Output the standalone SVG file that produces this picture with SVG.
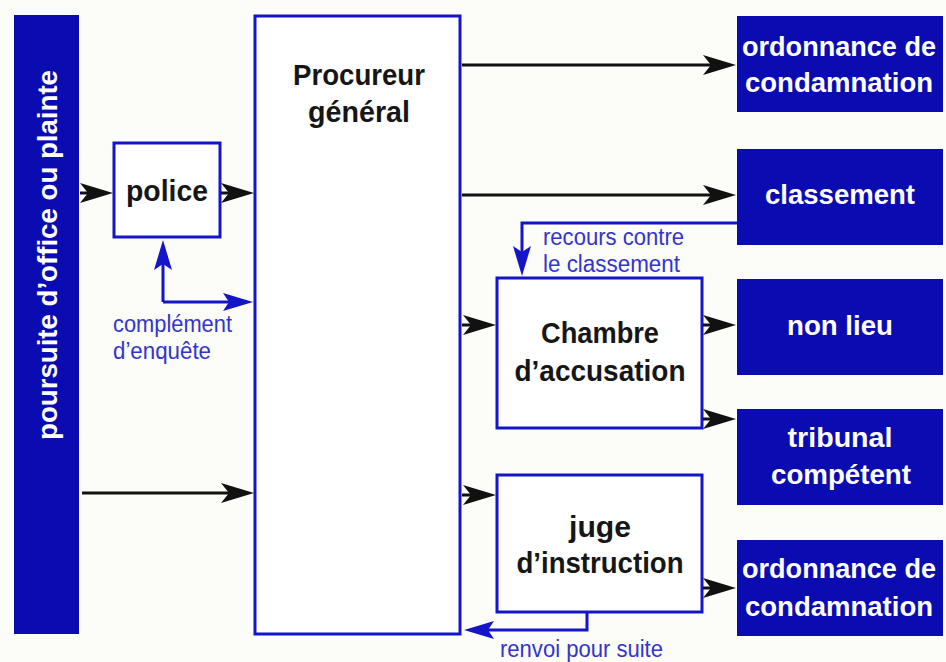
<svg xmlns="http://www.w3.org/2000/svg" width="946" height="662" viewBox="0 0 946 662">
<style>
.bg{fill:#fcfcf8}
.dark{fill:#0b0bb2}
.box{fill:#ffffff;stroke:#1515c8;stroke-width:3}
.bt{font-family:"Liberation Sans",Arial,sans-serif;font-weight:bold;font-size:29px;fill:#161616;text-anchor:middle}
.wt{font-family:"Liberation Sans",Arial,sans-serif;font-weight:bold;font-size:28px;fill:#ffffff;text-anchor:middle}
.lb{font-family:"Liberation Sans",Arial,sans-serif;font-size:23px;fill:#3434cc}
.ka{stroke:#111111;stroke-width:3;fill:none}
.ba{stroke:#1515c8;stroke-width:3;fill:none}
</style>
<defs>
<marker id="ak" viewBox="0 -10 34 20" markerWidth="34" markerHeight="20" markerUnits="userSpaceOnUse" refX="26" refY="0" orient="auto">
<path d="M0,-10 L33,0 L0,10 L8,0 Z" fill="#111111"/>
</marker>
<marker id="ab" viewBox="0 -10 32 20" markerWidth="32" markerHeight="20" markerUnits="userSpaceOnUse" refX="24" refY="0" orient="auto">
<path d="M0,-9 L30,0 L0,9 L6,0 Z" fill="#1515c8"/>
</marker>
</defs>
<rect class="bg" x="0" y="0" width="946" height="662"/>

<g id="poursuite">
<rect class="dark" x="14" y="15" width="65" height="619"/>
<text class="wt" transform="translate(57,255) rotate(-90)" textLength="370" lengthAdjust="spacingAndGlyphs">poursuite d’office ou plainte</text>
</g>

<g id="police">
<rect class="box" x="114" y="143" width="106" height="94"/>
<text class="bt" x="167" y="201" textLength="82" lengthAdjust="spacingAndGlyphs">police</text>
</g>

<g id="procureur">
<rect class="box" x="255" y="16" width="205" height="618"/>
<text class="bt" x="359" y="85" textLength="132" lengthAdjust="spacingAndGlyphs">Procureur</text>
<text class="bt" x="359" y="122" textLength="102" lengthAdjust="spacingAndGlyphs">général</text>
</g>

<g id="chambre">
<rect class="box" x="497" y="278" width="205" height="150"/>
<text class="bt" x="600" y="343" textLength="118" lengthAdjust="spacingAndGlyphs">Chambre</text>
<text class="bt" x="600" y="381" textLength="171" lengthAdjust="spacingAndGlyphs">d’accusation</text>
</g>

<g id="juge">
<rect class="box" x="497" y="475" width="205" height="137"/>
<text class="bt" x="600" y="537" textLength="62" lengthAdjust="spacingAndGlyphs">juge</text>
<text class="bt" x="600" y="573" textLength="167" lengthAdjust="spacingAndGlyphs">d’instruction</text>
</g>

<g id="ordonnance1">
<rect class="dark" x="737" y="16" width="206" height="96"/>
<text class="wt" x="839" y="56" textLength="194" lengthAdjust="spacingAndGlyphs">ordonnance de</text>
<text class="wt" x="839" y="92" textLength="188" lengthAdjust="spacingAndGlyphs">condamnation</text>
</g>

<g id="classement">
<rect class="dark" x="737" y="149" width="206" height="96"/>
<text class="wt" x="840" y="204" textLength="150" lengthAdjust="spacingAndGlyphs">classement</text>
</g>

<g id="nonlieu">
<rect class="dark" x="737" y="279" width="206" height="96"/>
<text class="wt" x="840" y="335" textLength="106" lengthAdjust="spacingAndGlyphs">non lieu</text>
</g>

<g id="tribunal">
<rect class="dark" x="737" y="409" width="206" height="96"/>
<text class="wt" x="840" y="447" textLength="105" lengthAdjust="spacingAndGlyphs">tribunal</text>
<text class="wt" x="841" y="484" textLength="140" lengthAdjust="spacingAndGlyphs">compétent</text>
</g>

<g id="ordonnance2">
<rect class="dark" x="737" y="540" width="206" height="96"/>
<text class="wt" x="839" y="578" textLength="194" lengthAdjust="spacingAndGlyphs">ordonnance de</text>
<text class="wt" x="839" y="616" textLength="188" lengthAdjust="spacingAndGlyphs">condamnation</text>
</g>

<g id="connectors">
<line class="ka" x1="80" y1="193" x2="106" y2="193" marker-end="url(#ak)"/>
<line class="ka" x1="221" y1="193" x2="247" y2="193" marker-end="url(#ak)"/>
<line class="ka" x1="82" y1="493" x2="247" y2="493" marker-end="url(#ak)"/>
<line class="ka" x1="462" y1="65" x2="729" y2="65" marker-end="url(#ak)"/>
<line class="ka" x1="462" y1="195" x2="729" y2="195" marker-end="url(#ak)"/>
<line class="ka" x1="462" y1="325" x2="489" y2="325" marker-end="url(#ak)"/>
<line class="ka" x1="462" y1="495" x2="489" y2="495" marker-end="url(#ak)"/>
<line class="ka" x1="703" y1="325" x2="729" y2="325" marker-end="url(#ak)"/>
<line class="ka" x1="703" y1="419" x2="729" y2="419" marker-end="url(#ak)"/>
<line class="ka" x1="703" y1="588" x2="729" y2="588" marker-end="url(#ak)"/>

<polyline class="ba" points="163,302 163,246" marker-end="url(#ab)"/>
<polyline class="ba" points="163,302 247,302" marker-end="url(#ab)"/>
<polyline class="ba" points="737,223 522,223 522,270" marker-end="url(#ab)"/>
<polyline class="ba" points="587,612 587,630 470,630" marker-end="url(#ab)"/>

<text class="lb" x="113" y="332" textLength="119" lengthAdjust="spacingAndGlyphs">complément</text>
<text class="lb" x="113" y="359" textLength="98" lengthAdjust="spacingAndGlyphs">d’enquête</text>
<text class="lb" x="543" y="245" textLength="141" lengthAdjust="spacingAndGlyphs">recours contre</text>
<text class="lb" x="543" y="272" textLength="137" lengthAdjust="spacingAndGlyphs">le classement</text>
<text class="lb" x="500" y="657" textLength="163" lengthAdjust="spacingAndGlyphs">renvoi pour suite</text>
</g>
</svg>
